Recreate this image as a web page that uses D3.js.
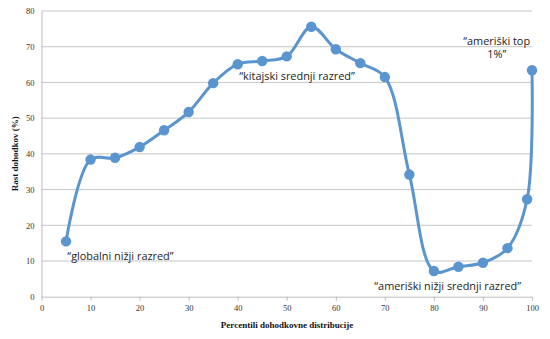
<!DOCTYPE html>
<html>
<head>
<meta charset="utf-8">
<script src="https://cdn.jsdelivr.net/npm/d3@7"></script>
<style>
  body { margin: 0; background: #fff; }
  svg { display: block; }
</style>
</head>
<body>
<div id="chart"></div>
<script>
// Income growth by percentile of global income distribution
const percentiles = [5, 10, 15, 20, 25, 30, 35, 40, 45, 50, 55, 60, 65, 70, 75, 80, 85, 90, 95, 99, 100];
const growth = [15.5, 38.4, 38.9, 41.9, 46.6, 51.7, 59.8, 65.1, 66.0, 67.3, 75.6, 69.3, 65.4, 61.5, 34.2, 7.2, 8.4, 9.5, 13.6, 27.3, 63.4];
const xTicks = [0, 10, 20, 30, 40, 50, 60, 70, 80, 90, 100];
const yTicks = [0, 10, 20, 30, 40, 50, 60, 70, 80];
const labels = [
  { lines: ['\u201Cglobalni ni\u017Eji razred\u201D'], x: 16.1, y: 10.2 },
  { lines: ['\u201Ckitajski srednji razred\u201D'], x: 52.1, y: 60.8 },
  { lines: ['\u201Cameri\u0161ki ni\u017Eji srednji razred\u201D'], x: 82.8, y: 1.8 },
  { lines: ['\u201Cameri\u0161ki top', '1%\u201D'], x: 92.8, y: 70.6 }
];

const width = 550, height = 339;
const svg = d3.select('#chart').append('svg')
  .attr('width', width)
  .attr('height', height);

const x = d3.scaleLinear().domain([0, 100]).range([41.5, 532]);
const y = d3.scaleLinear().domain([0, 80]).range([296.7, 11]);

const serif = '"Liberation Serif", "Times New Roman", serif';
const sans = '"Open Sans", "Noto Sans", sans-serif';

// gridlines
svg.append('g')
  .selectAll('line')
  .data(yTicks.filter(d => d > 0))
  .enter().append('line')
  .attr('x1', x(0)).attr('x2', x(100))
  .attr('y1', d => y(d)).attr('y2', d => y(d))
  .attr('stroke', '#c6c6c6')
  .attr('stroke-width', 1);

// y axis
const yAxis = svg.append('g')
  .attr('transform', `translate(${x(0)},0)`)
  .call(d3.axisLeft(y).tickValues(yTicks).tickSize(0).tickPadding(7));
yAxis.select('.domain').attr('stroke', '#bdbdbd');
yAxis.selectAll('text')
  .attr('font-family', serif).attr('font-size', 8.5).attr('fill', '#333');

// x axis
const xAxis = svg.append('g')
  .attr('transform', `translate(0,${y(0)})`)
  .call(d3.axisBottom(x).tickValues(xTicks).tickSize(4).tickSizeOuter(0).tickPadding(4));
xAxis.select('.domain').attr('stroke', '#bdbdbd');
xAxis.selectAll('.tick line').attr('stroke', '#bdbdbd');
xAxis.selectAll('text')
  .attr('font-family', serif).attr('font-size', 8.5).attr('fill', '#333');

// axis titles
svg.append('text')
  .attr('x', 287).attr('y', 328)
  .attr('text-anchor', 'middle')
  .attr('font-family', serif).attr('font-size', 9).attr('font-weight', 'bold')
  .attr('fill', '#111')
  .text('Percentili dohodkovne distribucije');

svg.append('text')
  .attr('transform', `translate(18,${y(40)}) rotate(-90)`)
  .attr('text-anchor', 'middle')
  .attr('font-family', serif).attr('font-size', 9).attr('font-weight', 'bold')
  .attr('fill', '#111')
  .text('Rast dohodkov (%)');

// line
const pts = percentiles.map((p, i) => [p, growth[i]]);
const line = d3.line()
  .x(d => x(d[0]))
  .y(d => y(d[1]))
  .curve(d3.curveCatmullRom.alpha(0.5));

svg.append('path')
  .datum(pts)
  .attr('fill', 'none')
  .attr('stroke', '#5b95d0')
  .attr('stroke-width', 3)
  .attr('d', line);

svg.append('g')
  .selectAll('circle')
  .data(pts)
  .enter().append('circle')
  .attr('cx', d => x(d[0]))
  .attr('cy', d => y(d[1]))
  .attr('r', 5.2)
  .attr('fill', '#5b95d0');

// annotations
labels.forEach(l => {
  const t = svg.append('text')
    .attr('text-anchor', 'middle')
    .attr('font-family', sans).attr('font-size', 10.9)
    .attr('fill', '#222');
  l.lines.forEach((s, i) => {
    t.append('tspan')
      .attr('x', x(l.x))
      .attr('y', y(l.y) + i * 13)
      .text(s);
  });
});
</script>
</body>
</html>
